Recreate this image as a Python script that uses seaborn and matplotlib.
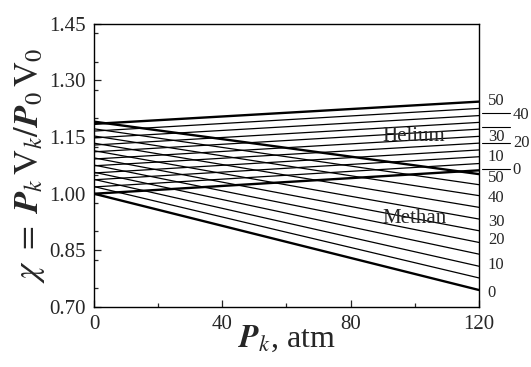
import numpy as np
import pandas as pd
import matplotlib
matplotlib.use("Agg")
import matplotlib.pyplot as plt
import seaborn as sns
from matplotlib.ticker import MultipleLocator

# ---- data ----
pressure = [0, 120]
param = [0, 5, 10, 15, 20, 25, 30, 35, 40, 45, 50]
helium_start = [1.000, 1.018, 1.037, 1.055, 1.074, 1.092, 1.111, 1.129, 1.148, 1.166, 1.185]
helium_end = [1.062, 1.080, 1.098, 1.116, 1.134, 1.152, 1.171, 1.189, 1.207, 1.226, 1.244]
methan_start = [1.000, 1.019, 1.038, 1.057, 1.076, 1.095, 1.114, 1.134, 1.153, 1.172, 1.191]
methan_end = [0.745, 0.777, 0.808, 0.840, 0.871, 0.902, 0.933, 0.964, 0.995, 1.024, 1.052]

he_label_text = ['50', '40', '30', '20', '10', '0']
he_label_y = [1.245, 1.209, 1.150, 1.135, 1.097, 1.064]
he_label_col = [0, 1, 0, 1, 0, 1]
he_leader_y = [1.214, 1.178, 1.135, 1.066]
me_label_text = ['50', '40', '30', '20', '10', '0']
me_label_y = [1.042, 0.989, 0.925, 0.877, 0.811, 0.737]

x_ticks = [0, 40, 80, 120]
y_ticks = [0.70, 0.85, 1.00, 1.15, 1.30, 1.45]

rows = []
for gas, starts, ends in (("Helium", helium_start, helium_end),
                          ("Methan", methan_start, methan_end)):
    for c, s, e in zip(param, starts, ends):
        for p, v in zip(pressure, (s, e)):
            rows.append({"gas": gas, "c": c, "P": p, "chi": v})
df = pd.DataFrame(rows)

sns.set_style("ticks")
plt.rcParams['font.family'] = ['Liberation Serif', 'DejaVu Serif']
plt.rcParams['mathtext.fontset'] = 'stix'
plt.rcParams['xtick.direction'] = 'in'
plt.rcParams['ytick.direction'] = 'in'

fig = plt.figure(figsize=(5.31, 3.67), dpi=100)
ax = fig.add_axes([0.177, 0.1635, 0.725, 0.7715])

for (gas, c), sub in df.groupby(["gas", "c"]):
    lw = 1.7 if c in (0, 50) else 0.9
    sns.lineplot(data=sub, x="P", y="chi", color="black", lw=lw, ax=ax,
                 legend=False, estimator=None)

ax.set_xlim(0, 120)
ax.set_ylim(0.70, 1.45)
ax.set_xticks(x_ticks)
ax.set_yticks(y_ticks)
ax.set_yticklabels([f"{t:.2f}" for t in y_ticks])
ax.xaxis.set_minor_locator(MultipleLocator(20))
ax.yaxis.set_minor_locator(MultipleLocator(0.075))
ax.tick_params(which='major', length=5, width=0.9, labelsize=15, pad=6,
               top=False, right=False)
ax.tick_params(which='minor', length=3, width=0.9, top=False, right=False)
for sp in ax.spines.values():
    sp.set_visible(True)
    sp.set_linewidth(1.0)
    sp.set_color('black')

ax.set_xlabel(r'$\mathbfit{P}_k$, atm', fontsize=23)
ax.xaxis.set_label_coords(0.5, -0.06)
ax.xaxis.label.set_va('top')
ax.set_ylabel(r'$\chi\ =\ \mathbfit{P}_{k}\,\mathrm{V}_{k}/\mathbfit{P}_{0}\,\mathrm{V}_{0}$',
              fontsize=25)
ax.yaxis.set_label_coords(-0.122, 0.5)

ax.text(90, 1.140, 'Helium', fontsize=15, ha='left', va='baseline')
ax.text(90, 0.923, 'Methan', fontsize=15, ha='left', va='baseline')

trans = ax.get_yaxis_transform()
for t, y, col in zip(he_label_text, he_label_y, he_label_col):
    xx = 1.023 if col == 0 else 1.088
    ax.text(xx, y, t, transform=trans, fontsize=12, ha='left', va='center',
            clip_on=False)
for y in he_leader_y:
    ax.plot([1.008, 1.081], [y, y], transform=trans, color='black', lw=0.8,
            clip_on=False)
for t, y in zip(me_label_text, me_label_y):
    ax.text(1.023, y, t, transform=trans, fontsize=12, ha='left', va='center',
            clip_on=False)

fig.savefig("out.png", dpi=100)
